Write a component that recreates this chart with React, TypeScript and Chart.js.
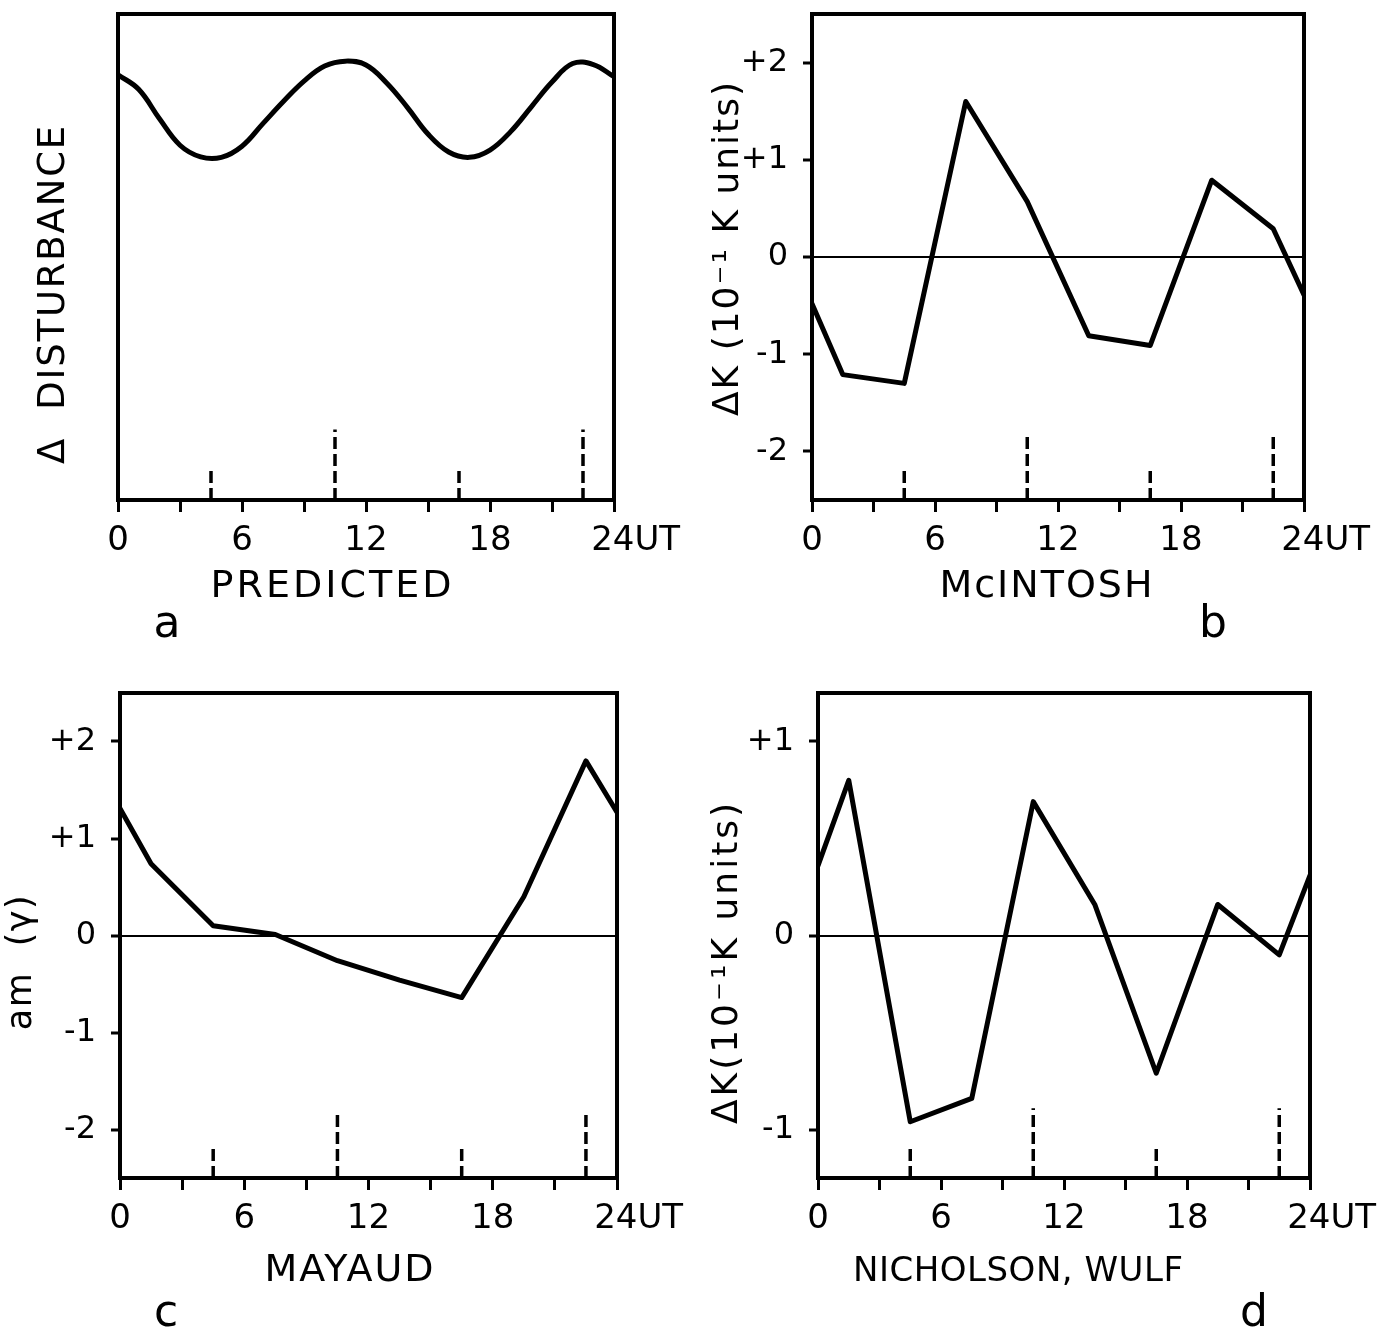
import React, { useEffect, useRef } from 'react';
import { Chart, registerables } from 'chart.js';

Chart.register(...registerables);

const FONT = '"DejaVu Sans", "Liberation Sans", sans-serif';

// ---------- data ----------
const predictedHours = [0, 1, 2, 3, 4, 5, 6, 7, 8, 9, 10, 11, 12, 13, 14, 15, 16, 17, 18, 19, 20, 21, 22, 23, 24];
const predictedValues = [87.5, 84.5, 78.5, 73.0, 70.6, 70.5, 72.8, 77.4, 82.0, 86.2, 89.3, 90.3, 89.5, 85.8, 80.8, 75.3, 71.6, 70.5, 72.0, 75.8, 80.9, 86.0, 89.8, 89.6, 87.1];

const sampleHours = [0, 1.5, 4.5, 7.5, 10.5, 13.5, 16.5, 19.5, 22.5, 24];
const mcintoshValues = [-0.48, -1.21, -1.3, 1.6, 0.57, -0.81, -0.91, 0.79, 0.29, -0.39];
const mayaudValues = [1.31, 0.74, 0.1, 0.01, -0.26, -0.46, -0.64, 0.4, 1.8, 1.27];
const nicholsonValues = [0.36, 0.8, -0.96, -0.84, 0.69, 0.16, -0.71, 0.16, -0.1, 0.31];

const markerHours = [4.5, 10.5, 16.5, 22.5];
const markerTopsA = [7, 14.5, 7, 14.5];
const markerTopsB = [-2.17, -1.8, -2.17, -1.8];
const markerTopsC = [-2.17, -1.8, -2.17, -1.8];
const markerTopsD = [-1.09, -0.89, -1.09, -0.89];

const xTickValues = [0, 3, 6, 9, 12, 15, 18, 21, 24];
const xLabelValues = [0, 6, 12, 18, 24];
const yTicksB = [-2, -1, 0, 1, 2];
const yTicksC = [-2, -1, 0, 1, 2];
const yTicksD = [-1, 0, 1];

// ---------- layout ----------
type Panel = {
  key: string;
  canvas: { left: number; top: number; w: number; h: number };
  area: { l: number; r: number; t: number; b: number };
  xs: number[];
  ys: number[];
  yMin: number;
  yMax: number;
  yTicks: number[] | null;
  markerTops: number[];
  smooth: boolean;
  xTitle: string;
  xTitlePos: [number, number];
  xTitleSize: number;
  xTitleSpacing: number;
  letter: string;
  letterPos: [number, number];
  yTitle: string;
  yTitlePos: [number, number];
  yTitleSize: number;
  yTitleSpacing: number;
};

const panels: Panel[] = [
  {
    key: 'a',
    canvas: { left: 0, top: 0, w: 690, h: 666 },
    area: { l: 118, r: 614, t: 14, b: 500 },
    xs: predictedHours, ys: predictedValues, yMin: 0, yMax: 100, yTicks: null,
    markerTops: markerTopsA, smooth: true,
    xTitle: 'PREDICTED', xTitlePos: [331, 597], xTitleSize: 38, xTitleSpacing: 3,
    letter: 'a', letterPos: [167, 637],
    yTitle: 'Δ  DISTURBANCE', yTitlePos: [54, 294], yTitleSize: 37, yTitleSpacing: 1.8,
  },
  {
    key: 'b',
    canvas: { left: 690, top: 0, w: 691, h: 666 },
    area: { l: 812, r: 1304, t: 14, b: 500 },
    xs: sampleHours, ys: mcintoshValues, yMin: -2.5, yMax: 2.5, yTicks: yTicksB,
    markerTops: markerTopsB, smooth: false,
    xTitle: 'McINTOSH', xTitlePos: [1046, 597], xTitleSize: 38, xTitleSpacing: 2,
    letter: 'b', letterPos: [1213, 637],
    yTitle: 'ΔK (10⁻¹ K units)', yTitlePos: [729, 248], yTitleSize: 36, yTitleSpacing: 2,
  },
  {
    key: 'c',
    canvas: { left: 0, top: 666, w: 690, h: 667 },
    area: { l: 120, r: 617, t: 693, b: 1178 },
    xs: sampleHours, ys: mayaudValues, yMin: -2.5, yMax: 2.5, yTicks: yTicksC,
    markerTops: markerTopsC, smooth: false,
    xTitle: 'MAYAUD', xTitlePos: [349, 1281], xTitleSize: 38, xTitleSpacing: 2,
    letter: 'c', letterPos: [166, 1326],
    yTitle: 'am  (γ)', yTitlePos: [22, 962], yTitleSize: 35, yTitleSpacing: 1.5,
  },
  {
    key: 'd',
    canvas: { left: 690, top: 666, w: 691, h: 667 },
    area: { l: 818, r: 1310, t: 693, b: 1178 },
    xs: sampleHours, ys: nicholsonValues, yMin: -1.25, yMax: 1.25, yTicks: yTicksD,
    markerTops: markerTopsD, smooth: false,
    xTitle: 'NICHOLSON, WULF', xTitlePos: [1018, 1281], xTitleSize: 34, xTitleSpacing: 0.5,
    letter: 'd', letterPos: [1254, 1326],
    yTitle: 'ΔK(10⁻¹K units)', yTitlePos: [728, 962], yTitleSize: 36, yTitleSpacing: 3,
  },
];

function PanelChart({ p }: { p: Panel }) {
  const ref = useRef<HTMLCanvasElement | null>(null);

  useEffect(() => {
    const canvas = ref.current;
    if (!canvas) return;
    const { left, top, w, h } = p.canvas;
    const yAxisWidth = p.yTicks ? p.area.l - left : 0;
    const padLeft = p.yTicks ? 0 : p.area.l - left;
    const padRight = left + w - p.area.r;
    const padTop = p.area.t - top;
    const xAxisHeight = top + h - p.area.b;

    const lineData = p.xs.map((x, i) => ({ x, y: p.ys[i] }));
    const markerSets = markerHours.map((hr, i) => ({
      data: [
        { x: hr, y: p.yMin },
        { x: hr, y: p.markerTops[i] },
      ],
      borderColor: '#000',
      borderWidth: 3.5,
      borderDash: [12, 5],
      pointRadius: 0,
      fill: false,
    }));

    const decor = {
      id: 'decor' + p.key,
      afterDraw(chart: any) {
        const ctx = chart.ctx as CanvasRenderingContext2D;
        const ca = chart.chartArea;
        ctx.save();
        ctx.strokeStyle = '#000';
        ctx.lineWidth = 4;
        ctx.strokeRect(ca.left, ca.top, ca.right - ca.left, ca.bottom - ca.top);
        ctx.fillStyle = '#000';
        // x title
        ctx.font = `${p.xTitleSize}px ${FONT}`;
        (ctx as any).letterSpacing = `${p.xTitleSpacing}px`;
        ctx.textAlign = 'center';
        ctx.textBaseline = 'alphabetic';
        ctx.fillText(p.xTitle, p.xTitlePos[0] - left + p.xTitleSpacing / 2, p.xTitlePos[1] - top);
        // panel letter
        (ctx as any).letterSpacing = '0px';
        ctx.font = `44px ${FONT}`;
        ctx.fillText(p.letter, p.letterPos[0] - left, p.letterPos[1] - top);
        // y title
        ctx.translate(p.yTitlePos[0] - left, p.yTitlePos[1] - top);
        ctx.rotate(-Math.PI / 2);
        ctx.font = `${p.yTitleSize}px ${FONT}`;
        (ctx as any).letterSpacing = `${p.yTitleSpacing}px`;
        ctx.textBaseline = 'middle';
        ctx.fillText(p.yTitle, 0, 0);
        ctx.restore();
      },
    };

    const chart = new Chart(canvas, {
      type: 'line',
      data: {
        datasets: [
          {
            data: lineData,
            borderColor: '#000',
            borderWidth: 5,
            pointRadius: 0,
            fill: false,
            tension: p.smooth ? 0.4 : 0,
            borderJoinStyle: 'round',
            borderCapStyle: 'round',
          } as any,
          ...markerSets,
        ],
      },
      options: {
        animation: false,
        responsive: false,
        maintainAspectRatio: false,
        devicePixelRatio: 1,
        layout: { padding: { left: padLeft, right: padRight, top: padTop, bottom: 0 } },
        plugins: { legend: { display: false }, tooltip: { enabled: false }, title: { display: false } },
        events: [],
        scales: {
          x: {
            type: 'linear',
            min: 0,
            max: 24,
            afterBuildTicks: (s: any) => {
              s.ticks = xTickValues.map((v) => ({ value: v }));
            },
            afterFit: (s: any) => {
              s.height = xAxisHeight;
              s.paddingLeft = 0;
              s.paddingRight = 0;
            },
            ticks: {
              autoSkip: false,
              maxRotation: 0,
              minRotation: 0,
              padding: 9,
              color: '#000',
              font: { family: FONT, size: 34 },
              callback: (v: any) => {
                const n = Number(v);
                if (!xLabelValues.includes(n)) return '';
                return n === 24 ? '    24UT' : String(n);
              },
            },
            grid: {
              drawOnChartArea: false,
              drawTicks: true,
              tickLength: 12,
              tickWidth: 3,
              tickColor: '#000',
              color: '#000',
            },
            border: { display: false },
          },
          y: {
            type: 'linear',
            display: !!p.yTicks,
            min: p.yMin,
            max: p.yMax,
            afterBuildTicks: (s: any) => {
              if (p.yTicks) s.ticks = p.yTicks.map((v) => ({ value: v }));
            },
            afterFit: (s: any) => {
              s.width = yAxisWidth;
              s.paddingTop = 0;
              s.paddingBottom = 0;
            },
            ticks: {
              padding: 15,
              color: '#000',
              font: { family: FONT, size: 32 },
              callback: (v: any) => {
                const n = Number(v);
                return n > 0 ? '+' + n : String(n);
              },
            },
            grid: {
              drawOnChartArea: true,
              drawTicks: true,
              tickLength: 9,
              tickWidth: 3,
              tickColor: '#000',
              lineWidth: 2,
              color: (c: any) => (c.tick && c.tick.value === 0 ? '#000' : 'rgba(0,0,0,0)'),
            },
            border: { display: false },
          },
        },
      } as any,
      plugins: [decor],
    });

    return () => {
      chart.destroy();
    };
  }, [p]);

  return (
    <canvas
      ref={ref}
      width={p.canvas.w}
      height={p.canvas.h}
      style={{ position: 'absolute', left: p.canvas.left, top: p.canvas.top, width: p.canvas.w, height: p.canvas.h }}
    />
  );
}

export default function App() {
  return (
    <div style={{ position: 'absolute', left: 0, top: 0, width: 1381, height: 1333, background: '#fff', overflow: 'hidden' }}>
      {panels.map((p) => (
        <PanelChart key={p.key} p={p} />
      ))}
    </div>
  );
}
